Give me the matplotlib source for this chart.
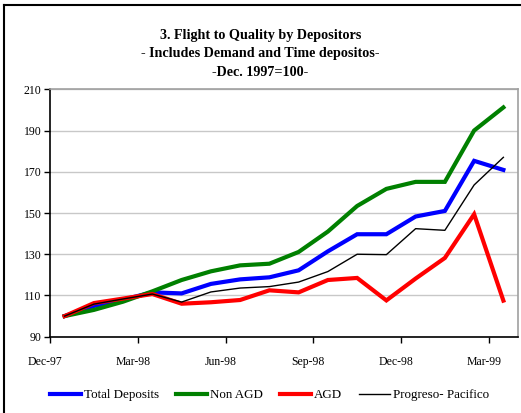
import matplotlib.pyplot as plt
import matplotlib.transforms as mtransforms
import numpy as np
from matplotlib.lines import Line2D

# monthly index, Dec-97 = 100 (Dec-97 .. Mar-99)
months = ['Dec-97', 'Jan-98', 'Feb-98', 'Mar-98', 'Apr-98', 'May-98', 'Jun-98', 'Jul-98',
          'Aug-98', 'Sep-98', 'Oct-98', 'Nov-98', 'Dec-98', 'Jan-99', 'Feb-99', 'Mar-99']
total_deposits = [100, 104.9, 108, 111.5, 111, 115.6, 117.8, 118.8,
                  122.2, 131.4, 139.7, 139.7, 148.3, 151, 175.3, 170.9]
non_agd = [100, 103, 107, 112, 117.5, 121.7, 124.6, 125.4,
           131.1, 141, 153.4, 161.7, 165.1, 165.1, 190, 201.2]
agd = [100, 106.3, 108.5, 110.7, 106, 106.7, 107.8, 112.5,
       111.5, 117.5, 118.5, 107.6, 118.2, 128.2, 149.4, 107.5]
progreso = [100, 105.8, 108.3, 110.7, 106.8, 111.7, 113.6, 114.3,
            116.5, 121.6, 130, 129.8, 142.4, 141.6, 163.6, 177]
tick_labels = ['Dec-97', 'Mar-98', 'Jun-98', 'Sep-98', 'Dec-98', 'Mar-99']

plt.rcParams['font.family'] = ['Liberation Serif', 'DejaVu Serif']

fig = plt.figure(figsize=(5.21, 4.13), dpi=100)
ax = fig.add_axes([50 / 521, 76.3 / 413, 468 / 521, 247.4 / 413])

x = np.arange(len(months))
ax.plot(x, total_deposits, color='#0000ff', lw=3, label='Total Deposits', solid_joinstyle='miter')
ax.plot(x, non_agd, color='#008000', lw=3, label='Non AGD', solid_joinstyle='miter')
ax.plot(x, agd, color='#ff0000', lw=3, label='AGD', solid_joinstyle='miter')
ax.plot(x, progreso, color='black', lw=1, label='Progreso- Pacifico')

ax.set_xlim(-0.5, len(months) - 0.5)
ax.set_ylim(90, 210)
ax.set_yticks(np.arange(90, 211, 20))
ax.set_xticks(np.arange(-0.5, len(months) - 0.5, 3))
ax.set_xticklabels(tick_labels)
ax.yaxis.grid(True, color='#c8c8c8', lw=1)
ax.set_axisbelow(True)
ax.tick_params(axis='both', labelsize=8.5, direction='out', length=4, width=1)
ax.tick_params(axis='x', pad=10)
ax.tick_params(axis='y', pad=2)
# Excel puts the date labels a little left of the tick marks
shift = mtransforms.ScaledTranslation(-5 / 100, 0, fig.dpi_scale_trans)
for lab in ax.get_xticklabels():
    lab.set_transform(lab.get_transform() + shift)
for s in ['left', 'bottom']:
    ax.spines[s].set_color('black')
    ax.spines[s].set_linewidth(1.2)
for s in ['top', 'right']:
    ax.spines[s].set_color('#a0a0a0')
    ax.spines[s].set_linewidth(1.2)

fig.text(0.5, 1 - 35 / 413, '3. Flight to Quality by Depositors', ha='center', va='center',
         fontsize=10.2, fontweight='bold')
fig.text(0.5, 1 - 54 / 413, '- Includes Demand and Time depositos-', ha='center', va='center',
         fontsize=10.2, fontweight='bold')
fig.text(0.5, 1 - 73 / 413, '-Dec. 1997=100-', ha='center', va='center',
         fontsize=10.2, fontweight='bold')

fig.legend(loc='center', bbox_to_anchor=(269.5 / 521, 18 / 413), ncol=4, frameon=False,
           fontsize=9.4, handlelength=2.35, handletextpad=0.25, columnspacing=1.3)

# outer frame (left and top visible)
fig.add_artist(Line2D([3.5 / 521, 3.5 / 521], [0, 1 - 5 / 413], color='black', lw=1.5,
                      transform=fig.transFigure))
fig.add_artist(Line2D([3.5 / 521, 1], [1 - 5 / 413, 1 - 5 / 413], color='black', lw=1.5,
                      transform=fig.transFigure))

fig.savefig('out.png', dpi=100)
